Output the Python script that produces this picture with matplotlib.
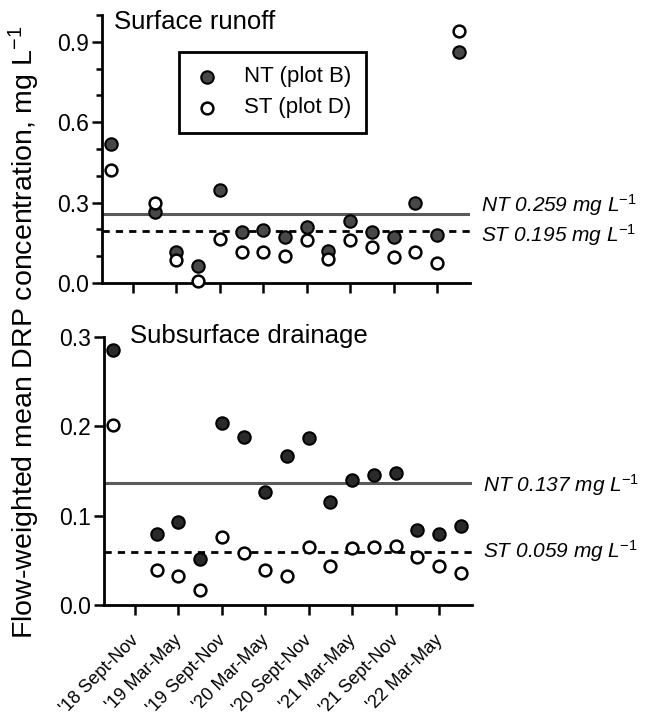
import matplotlib.pyplot as plt
import matplotlib.transforms as mtransforms
from matplotlib.ticker import MultipleLocator
import numpy as np

plt.rcParams['font.family'] = ['Liberation Sans', 'DejaVu Sans']
plt.rcParams['mathtext.fontset'] = 'custom'
plt.rcParams['mathtext.rm'] = 'Liberation Sans'
plt.rcParams['mathtext.it'] = 'Liberation Sans:italic'

# sampling position (in season-tick units) and season labels
x_pos = [0.5, 1.5, 2.0, 2.5, 3.0, 3.5, 4.0, 4.5, 5.0, 5.5, 6.0, 6.5, 7.0, 7.5, 8.0, 8.5]
season_ticks = [1, 2, 3, 4, 5, 6, 7, 8]
season_labels = ["'18 Sept-Nov", "'19 Mar-May", "'19 Sept-Nov", "'20 Mar-May",
                 "'20 Sept-Nov", "'21 Mar-May", "'21 Sept-Nov", "'22 Mar-May"]

# surface runoff DRP, mg/L
surf_nt = [0.520, 0.266, 0.115, 0.064, 0.346, 0.189, 0.199, 0.170,
           0.209, 0.121, 0.230, 0.190, 0.170, 0.299, 0.180, 0.861]
surf_st = [0.421, 0.299, 0.084, 0.008, 0.166, 0.115, 0.115, 0.099,
           0.159, 0.089, 0.161, 0.136, 0.096, 0.115, 0.074, 0.939]
surf_mean_nt = 0.259
surf_mean_st = 0.195

# subsurface drainage DRP, mg/L
sub_nt = [0.285, 0.079, 0.093, 0.051, 0.204, 0.188, 0.126, 0.167,
          0.187, 0.115, 0.140, 0.145, 0.148, 0.084, 0.079, 0.088]
sub_st = [0.201, 0.039, 0.032, 0.017, 0.076, 0.058, 0.039, 0.032,
          0.065, 0.044, 0.064, 0.065, 0.066, 0.054, 0.044, 0.036]
sub_mean_nt = 0.137
sub_mean_st = 0.059

W, H = 646, 717
fig = plt.figure(figsize=(W/100, H/100), dpi=100)

ax1 = fig.add_axes([102/W, (H-283)/H, 368/W, 268/H])
ax2 = fig.add_axes([104/W, (H-605)/H, 368/W, 268/H])

xlim = (0.286, 8.76)


def style(ax):
    for s in ['top', 'right']:
        ax.spines[s].set_visible(False)
    for s in ['left', 'bottom']:
        ax.spines[s].set_linewidth(2.0)
    ax.tick_params(which='major', length=7.5, width=1.8, labelsize=16.5, pad=2)
    ax.tick_params(which='minor', length=4.5, width=1.8)
    ax.set_xlim(*xlim)
    ax.set_xticks(season_ticks)


def draw(ax, nt, st, mnt, mst, nt_color):
    ax.plot(xlim, [mnt, mnt], color='#5a5a5a', lw=2.2, zorder=1, solid_capstyle='butt')
    ax.plot(xlim, [mst, mst], color='black', lw=2.0, ls=(0, (2.6, 2.2)), zorder=1)
    a = ax.scatter(x_pos, nt, s=80, facecolor=nt_color, edgecolor='black',
                   linewidth=1.5, zorder=3, clip_on=False)
    b = ax.scatter(x_pos, st, s=72, facecolor='white', edgecolor='black',
                   linewidth=1.8, zorder=4, clip_on=False)
    return a, b


style(ax1)
pa, pb = draw(ax1, surf_nt, surf_st, surf_mean_nt, surf_mean_st, '#484848')
ax1.set_ylim(0, 1.0)
ax1.set_yticks([0.0, 0.3, 0.6, 0.9])
ax1.set_yticklabels(['0.0', '0.3', '0.6', '0.9'])
ax1.yaxis.set_minor_locator(MultipleLocator(0.1))
ax1.set_xticklabels([])
ax1.text(0.033, 0.948, 'Surface runoff', transform=ax1.transAxes, fontsize=18.5,
         ha='left', va='baseline')
tr1 = mtransforms.blended_transform_factory(ax1.transAxes, ax1.transData)
ax1.text(1.03, 0.265, r'NT 0.259 mg L$^{\mathit{-1}}$', transform=tr1, fontsize=15,
         style='italic', ha='left', va='baseline')
ax1.text(1.03, 0.155, r'ST 0.195 mg L$^{\mathit{-1}}$', transform=tr1, fontsize=15,
         style='italic', ha='left', va='baseline')

leg = ax1.legend([pa, pb], ['NT (plot B)', 'ST (plot D)'], loc='upper left',
                 bbox_to_anchor=(0.209, 0.862), fontsize=16, frameon=True,
                 fancybox=False, edgecolor='black', framealpha=1,
                 borderpad=0.65, handletextpad=1.1, labelspacing=0.45,
                 borderaxespad=0, handlelength=1.2)
leg.get_frame().set_linewidth(2.0)

style(ax2)
draw(ax2, sub_nt, sub_st, sub_mean_nt, sub_mean_st, '#2a2a2a')
ax2.set_ylim(0, 0.3)
ax2.set_yticks([0.0, 0.1, 0.2, 0.3])
ax2.set_yticklabels(['0.0', '0.1', '0.2', '0.3'])
ax2.text(0.07, 0.976, 'Subsurface drainage', transform=ax2.transAxes, fontsize=18.5,
         ha='left', va='baseline')
tr2 = mtransforms.blended_transform_factory(ax2.transAxes, ax2.transData)
ax2.text(1.03, 0.1268, r'NT 0.137 mg L$^{\mathit{-1}}$', transform=tr2, fontsize=15,
         style='italic', ha='left', va='baseline')
ax2.text(1.03, 0.0523, r'ST 0.059 mg L$^{\mathit{-1}}$', transform=tr2, fontsize=15,
         style='italic', ha='left', va='baseline')

ax2.set_xticklabels(season_labels, rotation=45, ha='right', va='top', fontsize=13)
offset = mtransforms.ScaledTranslation(5/72, -10/72, fig.dpi_scale_trans)
for lab in ax2.get_xticklabels():
    lab.set_transform(lab.get_transform() + offset)

fig.text(0.038, 1 - 332/H, 'Flow-weighted mean DRP concentration, mg L$^{-1}$',
         rotation=90, ha='center', va='center', fontsize=20.5)

fig.savefig('out.png', dpi=100)
